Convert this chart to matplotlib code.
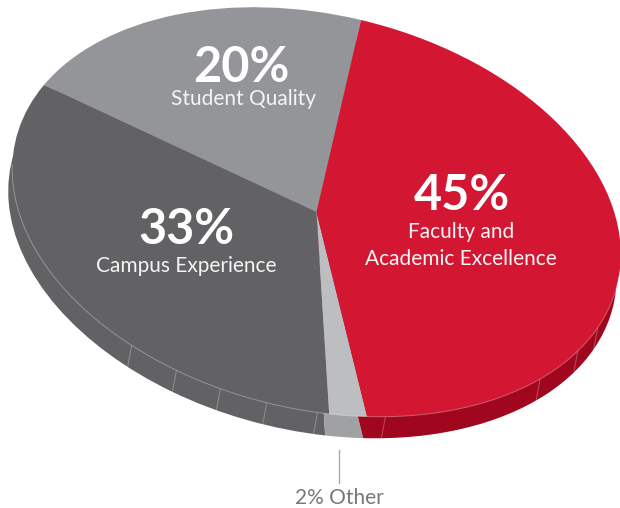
import numpy as np
import matplotlib
matplotlib.use("Agg")
import matplotlib.pyplot as plt
from matplotlib.transforms import Affine2D

categories = ["Student Quality", "Campus Experience", "Other", "Faculty and\nAcademic Excellence"]
values = [20, 33, 2, 45]
top_colors = ["#939598", "#626264", "#BCBEC0", "#D31733"]
rim_colors = ["#939598", "#626264", "#A0A1A4", "#A1061F"]
# facet seams on the rim, in pie degrees
rim_seams = [151, 161, 170, 179, 188.6, 201.5, 235.7, 247.6, 256]

FONT = ["Lato", "DejaVu Sans"]
fig = plt.figure(figsize=(6.2, 5.08), dpi=100)
ax = fig.add_axes([0, 0, 1, 1])

# tilted-disc projection of the unit pie into pixel space
cx, cy = 316.5, 212.0
ex = (44.5, -192.0)
ey = (-301.0, -71.2)
rim_dx, rim_dy = -4.0, 21.5
top_tf = Affine2D.from_values(ex[0], ex[1], ey[0], ey[1], cx, cy)
rim_tf = Affine2D.from_values(ex[0], ex[1], ey[0], ey[1], cx + rim_dx, cy + rim_dy)

rim, _ = ax.pie(values, colors=rim_colors, startangle=0, counterclock=True)
for w in rim:
    w.set_transform(rim_tf + ax.transData)
    w.set_zorder(1)
    w.set_linewidth(0)

top, _ = ax.pie(values, colors=top_colors, startangle=0, counterclock=True)
for w in top:
    w.set_transform(top_tf + ax.transData)
    w.set_zorder(3)
    w.set_linewidth(0)

seam_kw = dict(color="#FFFFFF", alpha=0.28, lw=0.7, solid_capstyle="butt")
for a in rim_seams:
    u = np.radians(a)
    p = np.array([[np.cos(u), np.sin(u)]])
    p0 = top_tf.transform(p)[0]
    p1 = rim_tf.transform(p)[0]
    ax.plot([p0[0], p1[0]], [p0[1], p1[1]], zorder=2, **seam_kw)

th = np.radians(np.linspace(97, 272, 300))
arc = top_tf.transform(np.column_stack([np.cos(th), np.sin(th)]))
ax.plot(arc[:, 0], arc[:, 1], color="#FFFFFF", alpha=0.32, lw=0.7, zorder=4)

ax.plot([339, 339], [450, 483], color="#A7A9AC", lw=1.0, zorder=2)

ax.set_aspect("auto")
ax.set_xlim(0, 620)
ax.set_ylim(508, 0)
ax.axis("off")

big = dict(color="white", fontsize=35, fontweight="bold", family=FONT, ha="center", va="center", zorder=5)
small = dict(color="#F4F4F5", fontsize=15, fontweight="normal", family=FONT, ha="center", va="center", zorder=5)
ax.text(241, 67, f"{values[0]}%", **big)
ax.text(243.5, 99, categories[0], **small)
ax.text(186, 230, f"{values[1]}%", **big)
ax.text(186, 266, categories[1], **small)
ax.text(462, 196, f"{values[3]}%", **big)
ax.text(461, 232, "Faculty and", **small)
ax.text(461, 259, "Academic Excellence", **small)
ax.text(339, 498, f"{values[2]}% {categories[2]}", color="#77787B", fontsize=15, fontweight="normal",
        family=FONT, ha="center", va="center")

fig.savefig("out.png", dpi=100)
